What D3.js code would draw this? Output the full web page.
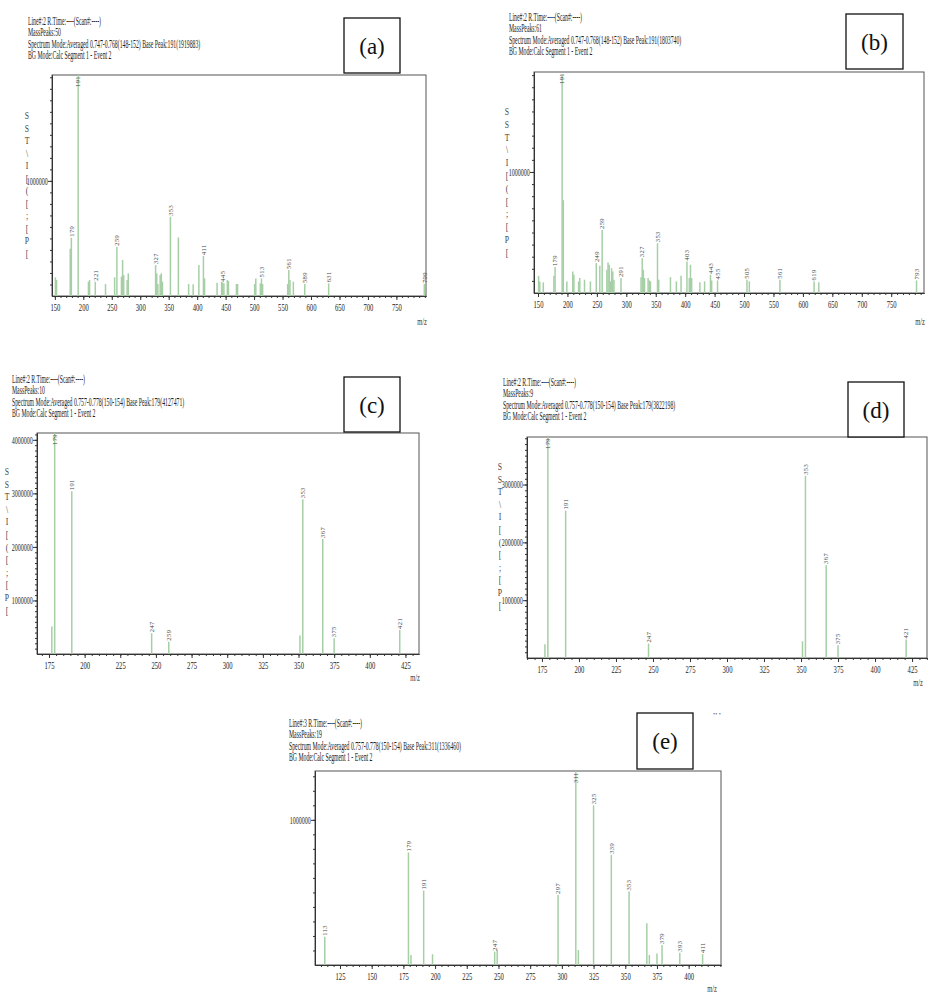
<!DOCTYPE html>
<html>
<head>
<meta charset="utf-8">
<script src="https://cdn.jsdelivr.net/npm/d3@7"></script>
<style>
  body { margin: 0; background: #fff; }
  svg { display: block; }
  text { font-family: "Liberation Serif", serif; }
</style>
</head>
<body>
<svg id="fig" width="940" height="1000"></svg>
<script>
// ---------- data ----------
// (a)
const mzA = [151,153,177,179,191,209,211,221,239,255,259,267,269,271,277,279,327,329,331,335,337,339,353,367,385,393,403,411,413,435,443,445,447,453,455,469,471,501,503,511,513,515,559,561,563,569,589,631,799];
const intA = [162000,139000,410000,506000,1919883,124000,139000,124000,104000,162000,428000,168000,312000,182000,139000,197000,269000,197000,104000,182000,197000,124000,688000,509000,104000,101000,269000,347000,153000,116000,124000,116000,110000,139000,130000,104000,104000,104000,153000,110000,153000,104000,104000,225000,139000,124000,104000,110000,104000];
const labA = [179,191,221,259,327,353,411,445,513,561,589,631,799];
const hdrA = ["Line#:2  R.Time:----(Scan#:----)", "MassPeaks:50",
  "Spectrum Mode:Averaged 0.747-0.768(148-152)  Base Peak:191(1919883)", "BG Mode:Calc  Segment 1 - Event 2"];

// (b)
const mzB = [151,153,159,177,179,191,193,199,209,211,219,221,229,239,249,255,259,267,269,271,273,275,277,279,291,325,327,329,331,337,339,341,353,355,375,385,393,403,407,409,411,425,433,443,445,455,505,509,561,619,627,793];
const intB = [142000,96000,88000,142000,214000,1803740,767000,96000,178000,151000,96000,123000,110000,96000,247000,225000,521000,192000,252000,233000,96000,205000,178000,110000,123000,131000,288000,192000,123000,123000,104000,96000,411000,110000,131000,96000,142000,260000,123000,233000,123000,88000,96000,151000,104000,104000,110000,96000,110000,96000,88000,104000];
const labB = [179,191,249,259,291,327,353,403,443,455,505,561,619,793];
const hdrB = ["Line#:2  R.Time:----(Scan#:----)", "MassPeaks:61",
  "Spectrum Mode:Averaged 0.747-0.768(148-152)  Base Peak:191(1803740)", "BG Mode:Calc  Segment 1 - Event 2"];

// (c)
const mzC = [177,179,191,247,259,351,353,367,375,421];
const intC = [512000,4127471,3040000,388000,231000,344000,2890000,2150000,294000,450000];
const labC = [179,191,247,259,353,367,375,421];
const hdrC = ["Line#:2  R.Time:----(Scan#:----)", "MassPeaks:10",
  "Spectrum Mode:Averaged 0.757-0.778(150-154)  Base Peak:179(4127471)", "BG Mode:Calc  Segment 1 - Event 2"];

// (d)
const mzD = [177,179,191,247,351,353,367,375,421];
const intD = [237000,3822198,2550000,249000,289000,3150000,1610000,220000,318000];
const labD = [179,191,247,353,367,375,421];
const hdrD = ["Line#:2  R.Time:----(Scan#:----)", "MassPeaks:9",
  "Spectrum Mode:Averaged 0.757-0.778(150-154)  Base Peak:179(3822198)", "BG Mode:Calc  Segment 1 - Event 2"];

// (e)
const mzE = [113,179,181,191,198,247,249,297,311,313,325,339,353,367,369,375,379,393,411];
const intE = [195000,775000,69000,513000,74000,92000,103000,483000,1336460,103000,1100000,759000,506000,287000,69000,80000,138000,85000,76000];
const labE = [113,179,191,247,297,311,325,339,353,379,393,411];
const hdrE = ["Line#:3  R.Time:----(Scan#:----)", "MassPeaks:19",
  "Spectrum Mode:Averaged 0.757-0.778(150-154)  Base Peak:311(1336460)", "BG Mode:Calc  Segment 1 - Event 2"];

// axis ticks
const xTicksWide = [150,200,250,300,350,400,450,500,550,600,650,700,750];
const xTicksNarrow = [175,200,225,250,275,300,325,350,375,400,425];
const xTicksE = [125,150,175,200,225,250,275,300,325,350,375,400];
const yTicks1 = [1000000];
const yTicks3 = [1000000,2000000,3000000];
const yTicks4 = [1000000,2000000,3000000,4000000];

// garbled vertical axis caption as it appears in the scans
const yCaption = ["S","S","T","\\","I","[","(","[",";","[","P","["];

// ---------- layout per panel ----------
const panels = [
  {mz: mzA, int: intA, lab: labA, header: hdrA, name: "(a)",
   left: 52, right: 426, top: 75, bottom: 296, xDomain: [145, 802], yMax: 1919883,
   xTicks: xTicksWide, xMinor: 10, yTicks: yTicks1,
   hx: 28, hy: 25, box: [344, 18, 56, 55], mzPos: [422, 325], cap: [27, 119, 12.5]},
  {mz: mzB, int: intB, lab: labB, header: hdrB, name: "(b)",
   left: 534, right: 924, top: 72, bottom: 293, xDomain: [143.2, 805.7], yMax: 1826000,
   xTicks: xTicksWide, xMinor: 10, yTicks: yTicks1,
   hx: 509, hy: 21, box: [846, 14, 57, 55], mzPos: [920, 325], cap: [507, 115, 12.8]},
  {mz: mzC, int: intC, lab: labC, header: hdrC, name: "(c)",
   left: 37, right: 419, top: 433, bottom: 654, xDomain: [166.6, 434.5], yMax: 4127471,
   xTicks: xTicksNarrow, xMinor: 5, yTicks: yTicks4,
   hx: 12, hy: 383, box: [344, 377, 56, 55], mzPos: [415, 681], cap: [7, 475, 12.6]},
  {mz: mzD, int: intD, lab: labD, header: hdrD, name: "(d)",
   left: 527, right: 927, top: 437, bottom: 658, xDomain: [164.9, 435.1], yMax: 3822198,
   xTicks: xTicksNarrow, xMinor: 5, yTicks: yTicks3,
   hx: 503, hy: 386, box: [848, 382, 56, 55], mzPos: [918, 686], cap: [500, 470, 12.6]},
  {mz: mzE, int: intE, lab: labE, header: hdrE, name: "(e)",
   left: 315, right: 721, top: 771, bottom: 965, xDomain: [105.3, 425.5], yMax: 1336460,
   xTicks: xTicksE, xMinor: 5, yTicks: yTicks1,
   hx: 289, hy: 727, box: [637, 713, 56, 56], mzPos: [712, 992], cap: null}
];

const svg = d3.select("#fig");

function drawPanel(p) {
  const g = svg.append("g").attr("class", "panel");

  const x = d3.scaleLinear().domain(p.xDomain).range([p.left, p.right]);
  const y = d3.scaleLinear().domain([0, p.yMax]).range([p.bottom, p.top]);

  // plot frame
  g.append("rect")
    .attr("x", p.left).attr("y", p.top)
    .attr("width", p.right - p.left).attr("height", p.bottom - p.top)
    .attr("fill", "none").attr("stroke", "#555").attr("stroke-width", 1);

  // header lines (narrow instrument font)
  const hg = g.append("g").attr("transform", "translate(" + p.hx + ",0) scale(0.48,1)");
  hg.selectAll("text").data(p.header).join("text")
    .attr("x", 0)
    .attr("y", (d, i) => p.hy + i * 11.4)
    .attr("font-size", 12)
    .attr("fill", "#222")
    .text(d => d);

  // peaks
  const peaks = p.mz.map((m, i) => ({mz: m, v: p.int[i]}));
  g.selectAll("line.peak").data(peaks).join("line")
    .attr("class", "peak")
    .attr("x1", d => x(d.mz)).attr("x2", d => x(d.mz))
    .attr("y1", y(0)).attr("y2", d => y(d.v))
    .attr("stroke", "#a6cfa6").attr("stroke-width", 1.5);

  // peak labels, rotated
  const labelled = peaks.filter(d => p.lab.indexOf(d.mz) >= 0);
  g.selectAll("text.plab").data(labelled).join("text")
    .attr("class", "plab")
    .attr("transform", d => "translate(" + x(d.mz) + "," + Math.max(y(d.v) - 1, p.top + 12) + ") rotate(-90)")
    .attr("dy", "0.35em")
    .attr("font-family", "DejaVu Sans")
    .attr("font-size", 6.5)
    .attr("letter-spacing", 0.4)
    .attr("fill", "#444")
    .text(d => d.mz);

  // x axis: minor then major
  const minor = d3.range(Math.ceil(p.xDomain[0] / p.xMinor) * p.xMinor, p.xDomain[1], p.xMinor);
  g.append("g").attr("transform", "translate(0," + p.bottom + ")")
    .call(d3.axisBottom(x).tickValues(minor).tickSize(2).tickSizeOuter(0).tickFormat(""));
  const xa = g.append("g").attr("transform", "translate(0," + p.bottom + ")")
    .call(d3.axisBottom(x).tickValues(p.xTicks).tickSize(4).tickSizeOuter(0));
  xa.selectAll("text")
    .attr("transform", "scale(0.6,1)")
    .attr("font-size", 11)
    .attr("font-family", "Liberation Serif")
    .attr("fill", "#222");

  // y axis: minor every 100000 then labelled ticks
  const yMinor = d3.range(100000, p.yMax, 100000);
  g.append("g").attr("transform", "translate(" + p.left + ",0)")
    .call(d3.axisLeft(y).tickValues(yMinor).tickSize(2).tickSizeOuter(0).tickFormat(""));
  const ya = g.append("g").attr("transform", "translate(" + p.left + ",0)")
    .call(d3.axisLeft(y).tickValues(p.yTicks).tickSize(4).tickSizeOuter(0).tickFormat(d3.format("d")));
  ya.selectAll("text")
    .attr("transform", "scale(0.6,1)")
    .attr("font-size", 10)
    .attr("font-family", "Liberation Serif")
    .attr("fill", "#222");

  g.selectAll(".domain, .tick line").attr("stroke", "#333");

  // m/z caption
  g.append("text")
    .attr("transform", "translate(" + p.mzPos[0] + "," + p.mzPos[1] + ") scale(0.65,1)")
    .attr("text-anchor", "middle")
    .attr("font-size", 10)
    .attr("fill", "#333")
    .text("m/z");

  // vertical caption
  if (p.cap) {
    g.selectAll("text.cap").data(yCaption).join("text")
      .attr("class", "cap")
      .attr("transform", (d, i) => "translate(" + p.cap[0] + "," + (p.cap[1] + i * p.cap[2]) + ") scale(0.7,1)")
      .attr("text-anchor", "middle")
      .attr("font-size", 11)
      .attr("fill", "#444")
      .text(d => d);
  }

  // panel letter box
  g.append("rect")
    .attr("x", p.box[0]).attr("y", p.box[1])
    .attr("width", p.box[2]).attr("height", p.box[3])
    .attr("fill", "#fff").attr("stroke", "#111").attr("stroke-width", 1.3);
  g.append("text")
    .attr("x", p.box[0] + p.box[2] / 2)
    .attr("y", p.box[1] + p.box[3] / 2 + 8)
    .attr("text-anchor", "middle")
    .attr("font-size", 23)
    .attr("fill", "#111")
    .text(p.name);
}

panels.forEach(drawPanel);

// stray mark at the upper right of panel (e)
svg.append("text")
  .attr("x", 717).attr("y", 716)
  .attr("text-anchor", "middle")
  .attr("font-size", 6)
  .attr("fill", "#777")
  .text("\u2022\u2022 \u2022");
</script>
</body>
</html>
